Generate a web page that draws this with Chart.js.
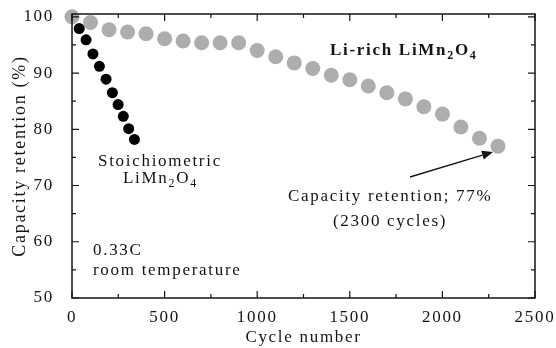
<!DOCTYPE html>
<html>
<head>
<meta charset="utf-8">
<script src="https://cdn.jsdelivr.net/npm/chart.js@4"></script>
<style>
  html, body { margin: 0; padding: 0; background: #fff; }
  #wrap { width: 556px; height: 348px; }
</style>
</head>
<body>
<div id="wrap"><canvas id="c" width="556" height="348"></canvas></div>
<script>
// ---- data ----
const stoichCycles = [39, 76, 113, 148, 184, 218, 249, 277, 306, 337];
const stoichRetention = [97.9, 95.9, 93.4, 91.2, 88.9, 86.5, 84.4, 82.3, 80.1, 78.2];

const liRichCycles = [0, 100, 200, 300, 400, 500, 600, 700, 800, 900, 1000, 1100, 1200,
                      1300, 1400, 1500, 1600, 1700, 1800, 1900, 2000, 2100, 2200, 2300];
const liRichRetention = [100, 99.0, 97.7, 97.3, 97.0, 96.1, 95.7, 95.4, 95.4, 95.4, 94.0, 92.9, 91.8,
                         90.8, 89.6, 88.8, 87.7, 86.5, 85.4, 84.0, 82.7, 80.4, 78.4, 77.0];

const xTickLabels = [0, 500, 1000, 1500, 2000, 2500];
const yTickLabels = [50, 60, 70, 80, 90, 100];

const FONT = '"Liberation Serif", "Times New Roman", serif';
const INK = '#141414';
const SPACING = '1.7px';

function pts(xs, ys) { return xs.map((x, i) => ({ x: x, y: ys[i] })); }

function setSpacing(chart) { chart.ctx.letterSpacing = SPACING; }

function noPad(s) { s.paddingTop = 0; s.paddingBottom = 0; s.paddingLeft = 0; s.paddingRight = 0; }

// draw text with subscripts: parts = [[text, isSub], ...]
function drawRich(ctx, parts, x, y, size, weight) {
  let cx = x;
  for (const [t, sub] of parts) {
    const s = sub ? Math.round(size * 0.68) : size;
    ctx.font = weight + ' ' + s + 'px ' + FONT;
    ctx.fillText(t, cx, sub ? y + size * 0.22 : y);
    cx += ctx.measureText(t).width;
  }
}

const framePlugin = {
  id: 'frame',
  beforeUpdate(chart) { setSpacing(chart); },
  beforeLayout(chart) { setSpacing(chart); },
  beforeDraw(chart) { setSpacing(chart); },
  afterDatasetsDraw(chart) {
    const ctx = chart.ctx;
    const a = chart.chartArea;
    const xs = chart.scales.x, ys = chart.scales.y;
    ctx.save();
    ctx.strokeStyle = INK;
    ctx.lineWidth = 1.5;
    ctx.strokeRect(a.left, a.top, a.right - a.left, a.bottom - a.top);
    ctx.lineWidth = 1.2;
    ctx.beginPath();
    for (let v = 0; v <= 2500; v += 250) {
      const px = xs.getPixelForValue(v);
      const len = (v % 500 === 0) ? 7 : 4;
      ctx.moveTo(px, a.bottom); ctx.lineTo(px, a.bottom - len);
      ctx.moveTo(px, a.top); ctx.lineTo(px, a.top + len);
    }
    for (let v = 50; v <= 100; v += 5) {
      const py = ys.getPixelForValue(v);
      const len = (v % 10 === 0) ? 7 : 4;
      ctx.moveTo(a.left, py); ctx.lineTo(a.left + len, py);
      ctx.moveTo(a.right, py); ctx.lineTo(a.right - len, py);
    }
    ctx.stroke();
    ctx.restore();

    // annotations
    ctx.save();
    ctx.letterSpacing = SPACING;
    ctx.fillStyle = INK;
    ctx.textAlign = 'left';
    ctx.textBaseline = 'alphabetic';
    drawRich(ctx, [['Li-rich LiMn', false], ['2', true], ['O', false], ['4', true]], 330, 55, 17, 'bold');
    drawRich(ctx, [['Stoichiometric', false]], 98, 166, 17, 'normal');
    drawRich(ctx, [['LiMn', false], ['2', true], ['O', false], ['4', true]], 123, 183, 17, 'normal');
    drawRich(ctx, [['Capacity retention; 77%', false]], 288, 201, 17, 'normal');
    drawRich(ctx, [['(2300 cycles)', false]], 333, 226, 17, 'normal');
    drawRich(ctx, [['0.33C', false]], 93, 255, 17, 'normal');
    drawRich(ctx, [['room temperature', false]], 93, 275, 17, 'normal');

    // arrow
    const x1 = 410, y1 = 177, x2 = 493, y2 = 152;
    const ang = Math.atan2(y2 - y1, x2 - x1);
    const hl = 11, hw = 4.5;
    const bx = x2 - hl * Math.cos(ang), by = y2 - hl * Math.sin(ang);
    ctx.strokeStyle = INK;
    ctx.lineWidth = 1.4;
    ctx.beginPath(); ctx.moveTo(x1, y1); ctx.lineTo(bx, by); ctx.stroke();
    ctx.beginPath();
    ctx.moveTo(x2, y2);
    ctx.lineTo(bx + hw * Math.sin(ang), by - hw * Math.cos(ang));
    ctx.lineTo(bx - hw * Math.sin(ang), by + hw * Math.cos(ang));
    ctx.closePath(); ctx.fill();
    ctx.restore();
  }
};

new Chart(document.getElementById('c'), {
  type: 'scatter',
  data: {
    datasets: [
      {
        label: 'Stoichiometric LiMn2O4',
        data: pts(stoichCycles, stoichRetention),
        pointRadius: 5.5,
        pointHoverRadius: 5.5,
        pointBackgroundColor: '#000',
        pointBorderWidth: 0,
        showLine: false,
        clip: false
      },
      {
        label: 'Li-rich LiMn2O4',
        data: pts(liRichCycles, liRichRetention),
        pointRadius: 7.5,
        pointHoverRadius: 7.5,
        pointBackgroundColor: '#adadad',
        pointBorderWidth: 0,
        showLine: false,
        clip: false
      }
    ]
  },
  options: {
    responsive: false,
    animation: false,
    events: [],
    layout: { padding: { top: 14, right: 21, left: 0, bottom: 0 } },
    plugins: { legend: { display: false }, tooltip: { enabled: false } },
    scales: {
      x: {
        type: 'linear',
        min: 0, max: 2500,
        grid: { display: false, drawTicks: false },
        border: { display: false },
        afterFit(s) { s.height = 50; noPad(s); },
        afterBuildTicks(s) { s.ticks = xTickLabels.map(v => ({ value: v })); },
        ticks: {
          color: INK,
          padding: 9,
          maxRotation: 0,
          autoSkip: false,
          font: { family: FONT, size: 17 },
          callback: v => String(v)
        },
        title: {
          display: true,
          text: 'Cycle number',
          color: INK,
          font: { family: FONT, size: 17 },
          padding: { top: 0, bottom: 0 }
        }
      },
      y: {
        type: 'linear',
        min: 50, max: 100.5,
        grid: { display: false, drawTicks: false },
        border: { display: false },
        afterFit(s) { s.width = 72; noPad(s); },
        afterBuildTicks(s) { s.ticks = yTickLabels.map(v => ({ value: v })); },
        ticks: {
          color: INK,
          padding: 18,
          autoSkip: false,
          font: { family: FONT, size: 17 },
          callback: v => String(v)
        },
        title: {
          display: true,
          text: 'Capacity retention (%)',
          color: INK,
          font: { family: FONT, size: 18 },
          padding: { top: 9, bottom: 0 }
        }
      }
    }
  },
  plugins: [framePlugin]
});
</script>
</body>
</html>
